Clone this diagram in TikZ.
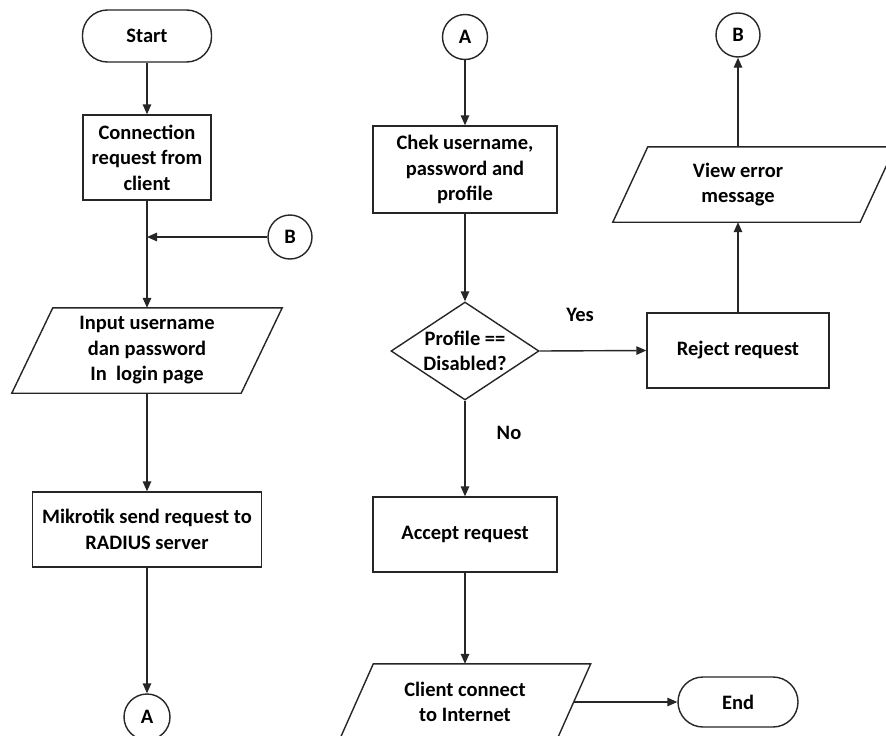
\documentclass[tikz,border=0pt]{standalone}
\usepackage{fontspec}
\setmainfont{Carlito}
\usetikzlibrary{shapes.geometric,arrows.meta}
\newcommand\diafont{\fontsize{20.5}{25.5}\selectfont\bfseries}
\newcommand\drawpara[3]{\draw[shapeline] ([xshift=#2]#1.south west) -- ([xshift=#3]#1.north west) -- ([xshift=#3]#1.north east) -- ([xshift=#2]#1.south east) -- cycle;}
\begin{document}
\begin{tikzpicture}[x=1pt,y=-1pt,
  shapeline/.style={draw=black!85, line width=1.4pt},
  arr/.style={draw=black!85, line width=1.4pt, -{Triangle[length=10pt,width=8.5pt]}},
  proc/.style={shapeline, rectangle, align=center, font=\diafont, inner sep=1pt},
  term/.style={shapeline, rectangle, rounded corners=25pt, align=center, font=\diafont, inner sep=1pt},
  conn/.style={shapeline, circle, minimum size=44pt, inner sep=0pt, font=\diafont},
  io/.style={rectangle, align=center, font=\diafont, inner sep=1pt},
  dec/.style={shapeline, diamond, aspect=1.5, align=center, font=\diafont, inner sep=0pt},
  lbl/.style={font=\diafont, inner sep=0pt}
]
\useasboundingbox (0,0) rectangle (886,736);
\fill[white] (0,0) rectangle (886,736);

% left column
\node[term, minimum width=129pt, minimum height=52pt] (start) at (147,36) {Start};
\node[proc, minimum width=128pt, minimum height=85pt] (conn) at (147,157.5) {Connection\\request from\\client};
\node[conn] (Bl) at (290,237) {B};
\node[io, minimum width=229pt, minimum height=85pt] (inp) at (147,350.5) {Input username\\dan password\\In\ \ login page};
\drawpara{inp}{-20.5}{20.5}
\node[proc, minimum width=229pt, minimum height=75pt] (mik) at (147,529.5) {Mikrotik send request to\\RADIUS server};
\node[conn, minimum size=46pt] (Al) at (147,717) {A};

% middle column
\node[conn, minimum size=45pt] (Ar) at (465,37) {A};
\node[proc, minimum width=184pt, minimum height=87pt] (chk) at (465,169.5) {Chek username,\\password and\\profile};
\node[dec, minimum width=148pt, minimum height=98pt] (dia) at (465,351) {Profile ==\\Disabled?};
\node[proc, minimum width=184pt, minimum height=75pt] (acc) at (465,534.5) {Accept request};
\node[io, minimum width=217pt, minimum height=76pt] (cli) at (465,702) {Client connect\\to Internet};
\drawpara{cli}{-17}{17}

% right column
\node[conn] (Br) at (738,35) {B};
\node[io, minimum width=247pt, minimum height=75pt] (vw) at (738,184.5) {View error\\message};
\drawpara{vw}{-1.5}{33.5}
\node[proc, minimum width=182pt, minimum height=75pt] (rej) at (738,350.5) {Reject request};
\node[term, minimum width=120pt, minimum height=50pt] (end) at (738,702) {End};

% labels
\node[lbl] (yes) at (580,315) {Yes};
\node[lbl] (no) at (509,433) {No};

% connectors
\draw[arr] (start) -- (conn);
\draw[arr] (conn) -- (inp);
\draw[arr] (Bl) -- (conn.south |- Bl.west);
\draw[arr] (inp) -- (mik);
\draw[arr] (mik) -- (Al);
\draw[arr] (Ar) -- (chk);
\draw[arr] (chk) -- (dia);
\draw[arr] (dia.east) -- (rej.west);
\draw[arr] (dia.south) -- (acc.north);
\draw[arr] (acc) -- (cli);
\draw[arr] (cli.east) -- (end.west);
\draw[arr] (rej) -- (vw);
\draw[arr] (vw) -- (Br);
\end{tikzpicture}
\end{document}
